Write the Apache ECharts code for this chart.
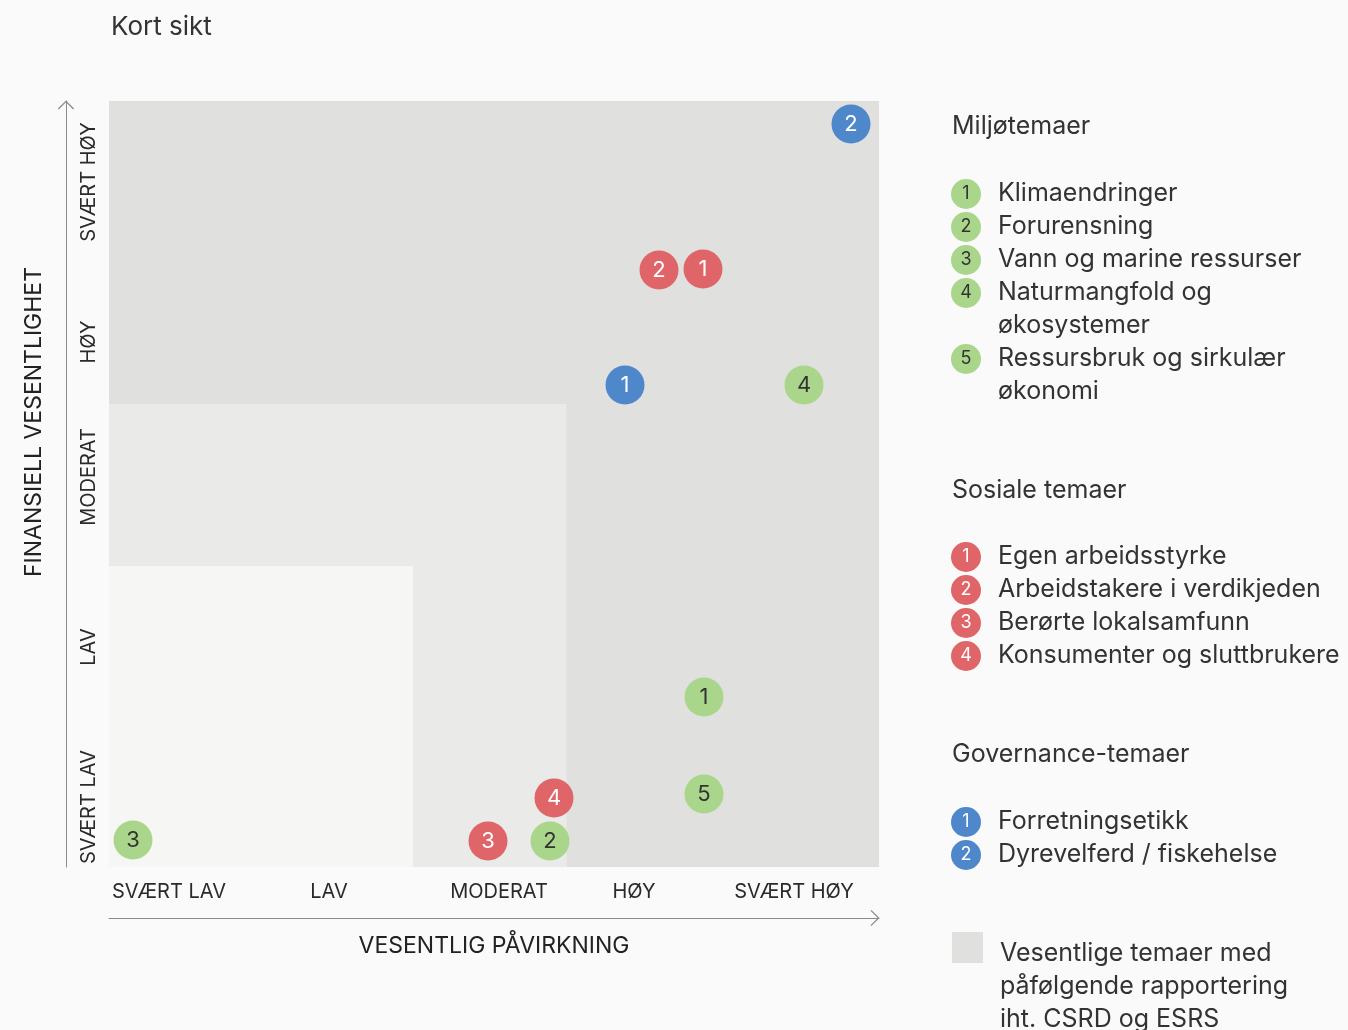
<!DOCTYPE html>
<html>
<head>
<meta charset="utf-8">
<script src="https://cdn.jsdelivr.net/npm/echarts@6/dist/echarts.min.js"></script>
<style>
  html, body { margin: 0; padding: 0; background: #fafafa; }
  #chart { width: 1348px; height: 1030px; }
</style>
</head>
<body>
<div id="chart"></div>
<script>
// scale: 0..154 along both axes (unitless position in the matrix)
const levelLabels = { 12: 'SVÆRT LAV', 44: 'LAV', 78: 'MODERAT', 105: 'HØY', 137: 'SVÆRT HØY' };

// [x (påvirkning), y (finansiell), nummer]
const envPoints = [
  [119, 34, '1'],
  [88.2, 5.2, '2'],
  [4.8, 5.4, '3'],
  [139, 96.4, '4'],
  [119, 14.6, '5']
];
const socialPoints = [
  [118.8, 119.6, '1'],
  [110, 119.4, '2'],
  [75.8, 5.2, '3'],
  [89, 13.8, '4']
];
const govPoints = [
  [103.2, 96.4, '1'],
  [148.4, 148.6, '2']
];

// nested zones: [xMax, yMax]
const zones = [
  [154, 153.2],
  [91.5, 92.6],
  [60.8, 60.2]
];
const zoneColors = ['#e0e0de', '#eaeae8', '#f6f6f5'];

const envLegend = ['Klimaendringer', 'Forurensning', 'Vann og marine ressurser', 'Naturmangfold og\nøkosystemer', 'Ressursbruk og sirkulær\nøkonomi'];
const socialLegend = ['Egen arbeidsstyrke', 'Arbeidstakere i verdikjeden', 'Berørte lokalsamfunn', 'Konsumenter og sluttbrukere'];
const govLegend = ['Forretningsetikk', 'Dyrevelferd / fiskehelse'];

const GREEN = '#a9d68b';
const RED = '#df6569';
const BLUE = '#4f87cb';
const TEXT = '#333333';
const FONT = 'Inter, "Noto Sans", sans-serif';

const chart = echarts.init(document.getElementById('chart'));

const chevron = 'path://M0,9 L9,0 L18,9 L17,10 L9,2 L1,10 Z';

// legend blocks
const graphics = [];
function legendBlock(title, titleY, items, color, numColor, startY) {
  graphics.push({
    type: 'text', x: 952, y: titleY,
    style: { text: title, font: '400 25px ' + FONT, fill: TEXT, verticalAlign: 'middle' }
  });
  let y = startY;
  items.forEach((name, i) => {
    graphics.push({
      type: 'circle', shape: { cx: 966, cy: y + 1, r: 15 },
      style: { fill: color }
    });
    graphics.push({
      type: 'text', x: 966, y: y + 1,
      style: { text: String(i + 1), font: '400 18px ' + FONT, fill: numColor, align: 'center', verticalAlign: 'middle' }
    });
    graphics.push({
      type: 'text', x: 998, y: y - 16,
      style: { text: name, font: '400 25px ' + FONT, fill: TEXT, lineHeight: 33 }
    });
    y += 33 * name.split('\n').length;
  });
}
legendBlock('Miljøtemaer', 126, envLegend, GREEN, TEXT, 193);
legendBlock('Sosiale temaer', 490, socialLegend, RED, '#fff', 556);
legendBlock('Governance-temaer', 754, govLegend, BLUE, '#fff', 821);
graphics.push({
  type: 'rect', shape: { x: 952, y: 932, width: 31, height: 31 },
  style: { fill: '#e0e0de' }
});
graphics.push({
  type: 'text', x: 1000, y: 937,
  style: { text: 'Vesentlige temaer med\npåfølgende rapportering\niht. CSRD og ESRS', font: '400 25px ' + FONT, fill: TEXT, lineHeight: 33 }
});
graphics.push({
  type: 'text', x: 111, y: 27,
  style: { text: 'Kort sikt', font: '400 26px ' + FONT, fill: TEXT, verticalAlign: 'middle' }
});

function pointSeries(name, data, color, labelColor) {
  return {
    name: name,
    type: 'scatter',
    data: data,
    symbolSize: 39,
    itemStyle: { color: color, opacity: 1 },
    label: {
      show: true,
      position: 'inside',
      formatter: p => p.value[2],
      fontSize: 22,
      fontFamily: FONT,
      color: labelColor
    },
    z: 5
  };
}

const labelFmt = v => levelLabels[Math.round(v)] || '';

const option = {
  backgroundColor: '#fafafa',
  animation: false,
  textStyle: { fontFamily: FONT },
  grid: { left: 109, top: 101, width: 770, height: 766 },
  xAxis: {
    type: 'value', min: 0, max: 154, interval: 1,
    offset: 51,
    axisLine: { show: true, onZero: false, lineStyle: { color: '#8a8a8a', width: 1 }, symbol: ['none', chevron], symbolSize: [18, 9], symbolOffset: [0, -4] },
    axisTick: { show: false },
    splitLine: { show: false },
    axisLabel: { inside: true, margin: 16, formatter: labelFmt, fontSize: 20, color: '#2a2a2a', hideOverlap: false, showMinLabel: true, showMaxLabel: true },
    name: 'VESENTLIG PÅVIRKNING',
    nameLocation: 'middle',
    nameGap: 17,
    nameTextStyle: { fontSize: 23, color: '#222', verticalAlign: 'top' }
  },
  yAxis: {
    type: 'value', min: 0, max: 153.2, interval: 1,
    offset: 43,
    axisLine: { show: true, onZero: false, lineStyle: { color: '#8a8a8a', width: 1 }, symbol: ['none', chevron], symbolSize: [18, 9], symbolOffset: [0, -4] },
    axisTick: { show: false },
    splitLine: { show: false },
    axisLabel: { inside: true, rotate: 90, margin: 13, formatter: labelFmt, fontSize: 20, color: '#2a2a2a', hideOverlap: false },
    name: 'FINANSIELL VESENTLIGHET',
    nameLocation: 'middle',
    nameRotate: 90,
    nameGap: 20,
    nameTextStyle: { fontSize: 23, color: '#222', padding: [0, 0, 0, 124] }
  },
  graphic: graphics,
  series: [
    {
      name: 'zones',
      type: 'scatter',
      data: [],
      silent: true,
      markArea: {
        silent: true,
        data: zones.map((z, i) => [
          { coord: [0, 0], itemStyle: { color: zoneColors[i], opacity: 1 } },
          { coord: [z[0], z[1]] }
        ])
      },
      z: 1
    },
    pointSeries('Miljøtemaer', envPoints, GREEN, TEXT),
    pointSeries('Sosiale temaer', socialPoints, RED, '#fff'),
    pointSeries('Governance-temaer', govPoints, BLUE, '#fff')
  ]
};

chart.setOption(option);
</script>
</body>
</html>
